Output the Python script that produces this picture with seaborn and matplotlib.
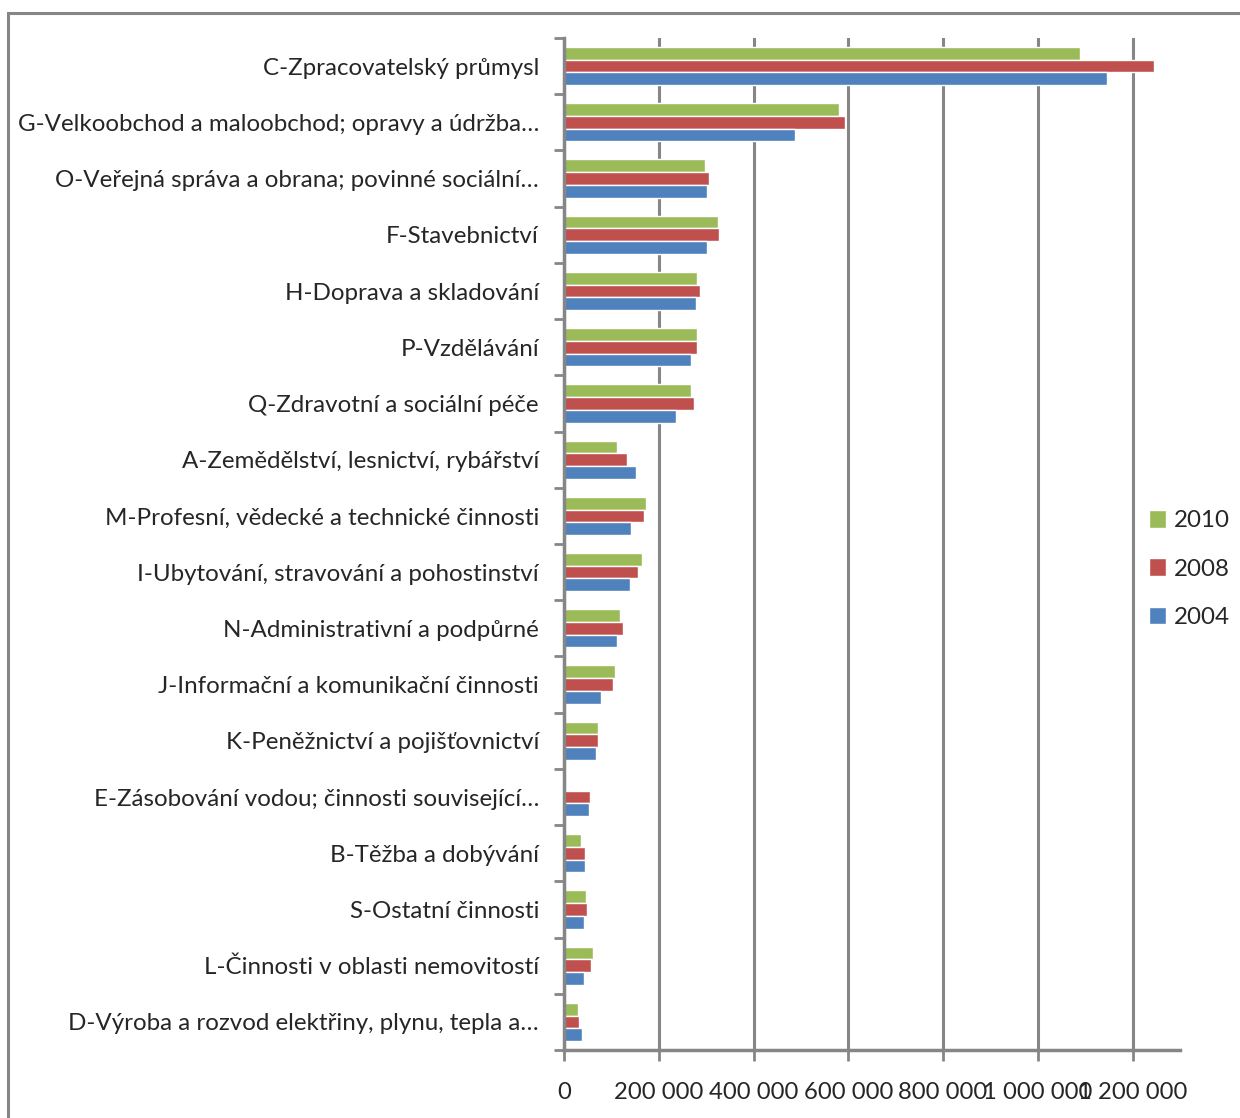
import numpy as np
import pandas as pd
import matplotlib
matplotlib.use("Agg")
import matplotlib.pyplot as plt
from matplotlib.patches import Rectangle
from matplotlib.ticker import FuncFormatter
import seaborn as sns

categories = [
    "C-Zpracovatelský průmysl",
    "G-Velkoobchod a maloobchod; opravy a údržba…",
    "O-Veřejná správa a obrana; povinné sociální…",
    "F-Stavebnictví",
    "H-Doprava a skladování",
    "P-Vzdělávání",
    "Q-Zdravotní a sociální péče",
    "A-Zemědělství, lesnictví, rybářství",
    "M-Profesní, vědecké a technické činnosti",
    "I-Ubytování, stravování a pohostinství",
    "N-Administrativní a podpůrné",
    "J-Informační a komunikační činnosti",
    "K-Peněžnictví a pojišťovnictví",
    "E-Zásobování vodou; činnosti související…",
    "B-Těžba a dobývání",
    "S-Ostatní činnosti",
    "L-Činnosti v oblasti nemovitostí",
    "D-Výroba a rozvod elektřiny, plynu, tepla a…",
]
years = ["2010", "2008", "2004"]
v2010 = [1089000, 580000, 297000, 326000, 280000, 280000, 269000, 112000, 173000,
         164000, 118000, 107000, 72000, 0, 36000, 46000, 61000, 29000]
v2008 = [1245000, 593000, 305000, 328000, 288000, 280000, 274000, 133000, 168000,
         156000, 124000, 103000, 72000, 55000, 44000, 48000, 57000, 32000]
v2004 = [1146000, 488000, 301000, 301000, 278000, 269000, 236000, 152000, 141000,
         139000, 112000, 78000, 67000, 53000, 44000, 42000, 42000, 38000]
colors = ["#9BBB59", "#C0504D", "#4F81BD"]
xticks = [0, 200000, 400000, 600000, 800000, 1000000, 1200000]

df = pd.DataFrame({
    "category": categories * 3,
    "year": [years[0]] * len(categories) + [years[1]] * len(categories) + [years[2]] * len(categories),
    "value": v2010 + v2008 + v2004,
})

sns.set_style("white")
plt.rcParams["font.family"] = ["Lato", "DejaVu Sans"]

fig = plt.figure(figsize=(12.4, 11.18), dpi=100)
ax = fig.add_axes([564 / 1240, 1 - 1050 / 1118, (1180 - 564) / 1240, (1050 - 38) / 1118])

sns.barplot(data=df, y="category", x="value", hue="year", hue_order=years,
            order=categories, palette=colors, orient="h", width=0.68,
            saturation=1, ax=ax, legend=True)

gray = "#868686"
ax.set_xlim(0, 1300000)
ax.set_xticks(xticks)
ax.xaxis.set_major_formatter(FuncFormatter(lambda v, p: f"{int(v):,}".replace(",", " ")))
ax.grid(axis="x", color=gray, linewidth=2.2)
ax.set_axisbelow(True)
ax.set_xlabel("")
ax.set_ylabel("")
for s in ["top", "right"]:
    ax.spines[s].set_visible(False)
for s in ["left", "bottom"]:
    ax.spines[s].set_color(gray)
    ax.spines[s].set_linewidth(2.5)

ax.tick_params(axis="x", which="major", length=8, width=2, color=gray, pad=15,
               labelsize=17.2, direction="out", bottom=True)
ax.tick_params(axis="y", which="major", length=0, pad=18, labelsize=17.4)
ax.set_yticks(np.arange(-0.5, len(categories)), minor=True)
ax.tick_params(axis="y", which="minor", length=7, width=2, color=gray, left=True)

leg = ax.legend(loc="center left", bbox_to_anchor=(1149 / 1240, 1 - 569 / 1118),
                bbox_transform=fig.transFigure, borderpad=0, borderaxespad=0,
                frameon=False, fontsize=17.4, handlelength=0.72, handleheight=0.72,
                handletextpad=0.3, labelspacing=1.12)

fig.patches.append(Rectangle((8 / 1240, -0.1), 2, 1.1 - 13 / 1118,
                             transform=fig.transFigure, fill=False,
                             edgecolor=gray, linewidth=2.2, figure=fig))

fig.savefig("out.png", dpi=100, facecolor="white")
